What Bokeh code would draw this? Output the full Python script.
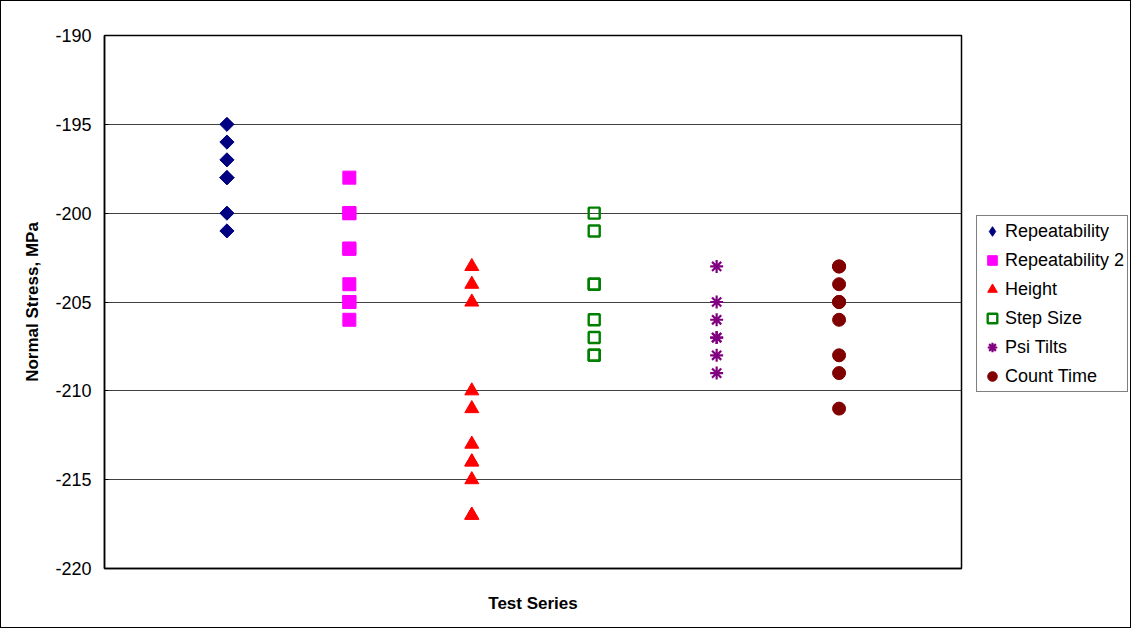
import math
from bokeh.plotting import figure
from bokeh.layouts import row
from bokeh.models import Range1d, FixedTicker, Legend, LegendItem
from bokeh.embed import file_html
from bokeh.resources import INLINE

# ---- data ----
series_names = ["Repeatability", "Repeatability 2", "Height", "Step Size", "Psi Tilts", "Count Time"]
repeatability = [-195, -196, -197, -198, -198, -200, -201]
repeatability_2 = [-198, -200, -200, -202, -202, -204, -205, -205, -206]
height = [-203, -204, -205, -210, -211, -213, -214, -214, -215, -217, -217]
step_size = [-200, -201, -204, -204, -206, -207, -208, -208]
psi_tilts = [-203, -205, -206, -207, -207, -208, -209]
count_time = [-203, -203, -204, -205, -205, -206, -208, -209, -211]
y_ticks = [-220, -215, -210, -205, -200, -195, -190]
y_tick_labels = ["-220", "-215", "-210", "-205", "-200", "-195", "-190"]

FONT = "Liberation Sans"
H = 626

p = figure(width=962, height=H, output_backend="svg", toolbar_location=None,
           x_range=Range1d(0, 7), y_range=Range1d(-220, -190),
           min_border_left=103, min_border_top=34, min_border_bottom=59, min_border_right=2)
p.background_fill_color = "white"
p.border_fill_color = "white"
p.outline_line_color = "black"
p.outline_line_width = 1.5

# axes
p.xaxis.ticker = FixedTicker(ticks=[])
p.xaxis.axis_label = "Test Series"
p.xaxis.axis_label_text_font = FONT
p.xaxis.axis_label_text_font_style = "bold"
p.xaxis.axis_label_text_font_size = "17px"
p.xaxis.axis_label_text_color = "black"
p.xaxis.axis_label_standoff = 25
p.xaxis.axis_line_color = "black"
p.xaxis.axis_line_width = 1.5
p.xaxis.major_tick_line_color = None
p.xaxis.minor_tick_line_color = None

p.yaxis.ticker = FixedTicker(ticks=y_ticks)
p.yaxis.major_label_overrides = dict(zip(y_ticks, y_tick_labels))
p.yaxis.axis_label = "Normal Stress, MPa"
p.yaxis.axis_label_text_font = FONT
p.yaxis.axis_label_text_font_style = "bold"
p.yaxis.axis_label_text_font_size = "17px"
p.yaxis.axis_label_text_color = "black"
p.yaxis.axis_label_standoff = 10
p.yaxis.major_label_text_font = FONT
p.yaxis.major_label_text_font_size = "18px"
p.yaxis.major_label_text_color = "black"
p.yaxis.major_label_standoff = 13
p.yaxis.axis_line_color = "black"
p.yaxis.axis_line_width = 1.5
p.yaxis.major_tick_in = 4
p.yaxis.major_tick_out = 0
p.yaxis.major_tick_line_color = "black"
p.yaxis.minor_tick_line_color = None

p.xgrid.grid_line_color = None
p.ygrid.ticker = FixedTicker(ticks=y_ticks)
p.ygrid.grid_line_color = "black"
p.ygrid.grid_line_width = 1
p.ygrid.grid_line_alpha = 0.75

all_series = [repeatability, repeatability_2, height, step_size, psi_tilts, count_time]
styles = [
    dict(marker="square", size=10, angle=math.pi / 4, fill_color="#000080", line_color="#000080"),
    dict(marker="square", size=13, fill_color="#FF00FF", line_color="#FF00FF"),
    dict(marker="triangle", size=14, fill_color="#FF0000", line_color="#FF0000"),
    dict(marker="square", size=11, fill_color=None, line_color="#008000", line_width=2.4),
    dict(marker="asterisk", size=13, line_color="#800080", line_width=2.2),
    dict(marker="circle", size=13, fill_color="#800000", line_color="#800000"),
]

# legend lives in a narrow companion figure to the right of the plot
pl = figure(width=167, height=H, output_backend="svg", toolbar_location=None,
            x_range=Range1d(0, 1), y_range=Range1d(0, 1),
            min_border_left=0, min_border_right=0, min_border_top=0, min_border_bottom=0)
pl.axis.visible = False
pl.grid.visible = False
pl.outline_line_color = None
pl.background_fill_color = "white"
pl.border_fill_color = "white"

items = []
for i, (name, vals, st) in enumerate(zip(series_names, all_series, styles)):
    xs = [i + 1] * len(vals)
    p.scatter(xs, vals, **st)
    # proxy glyph placed outside the companion figure's visible range (legend swatch only)
    proxy_style = dict(st)
    if "angle" in proxy_style:
        proxy_style.pop("angle")
        proxy_style["marker"] = "diamond"
    proxy = pl.scatter([-5], [-5], **proxy_style)
    items.append(LegendItem(label=name, renderers=[proxy]))

legend = Legend(items=items, location=(13, 176))
legend.label_text_font = FONT
legend.label_text_font_size = "18px"
legend.label_text_color = "black"
legend.label_height = 24
legend.glyph_height = 24
legend.glyph_width = 24
legend.label_standoff = 1
legend.spacing = 5
legend.padding = 3
legend.margin = 0
legend.border_line_color = "black"
legend.border_line_width = 1
legend.background_fill_color = "white"
legend.background_fill_alpha = 1
pl.add_layout(legend, "center")

layout = row(p, pl)
layout.styles = {"border": "1px solid black", "background-color": "white"}

open("out.html", "w").write(file_html(layout, INLINE))
